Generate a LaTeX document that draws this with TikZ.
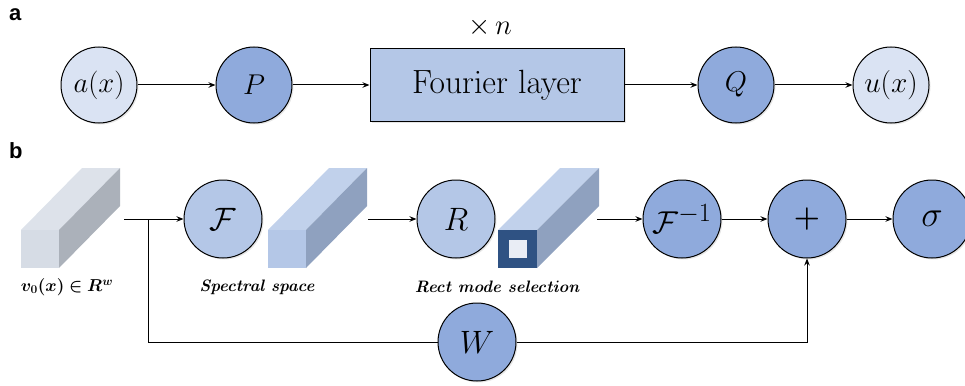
\documentclass[tikz,border=0pt]{standalone}
\usepackage{amsmath,bm,graphicx}
\usepackage{fontspec}
\newfontfamily\labfont{Liberation Sans}
\usetikzlibrary{arrows.meta,shadows}
\definecolor{lightb}{HTML}{DAE3F3}
\definecolor{midb}{HTML}{B4C7E7}
\definecolor{darkb}{HTML}{8FAADC}
\definecolor{navy}{HTML}{2F5283}
\definecolor{grayfront}{HTML}{D6DCE5}
\definecolor{graytop}{HTML}{DDE2EA}
\definecolor{grayside}{HTML}{ABB1BA}
\definecolor{bluetop}{HTML}{C1D1EB}
\definecolor{blueside}{HTML}{8FA1BF}
\definecolor{innersq}{HTML}{E9EDF5}
\newcommand{\myscm}[2]{\scalebox{#1}{$#2$}}
\newcommand{\cmtext}{\usefont{OT1}{cmr}{m}{n}}
\newcommand{\cmbi}{\usefont{OT1}{cmr}{bx}{it}}
\begin{document}
\begin{tikzpicture}[x=1pt,y=-1pt,
  shad/.style={drop shadow={opacity=0.2,shadow xshift=1.5pt,shadow yshift=-1.5pt}},
  circa/.style={circle,draw=black,line width=1pt,minimum size=76pt,inner sep=0pt,shad,font=\fontsize{24.88}{28}\selectfont},
  circb/.style={circle,draw=black,line width=1pt,minimum size=78pt,inner sep=0pt,shad,font=\fontsize{24.88}{28}\selectfont},
  arr/.style={-{Stealth[length=7pt,width=5.5pt]},line width=1pt},
  ln/.style={line width=1pt},
  lab/.style={font=\labfont\bfseries\fontsize{22}{24}\selectfont,anchor=north west,inner sep=0pt},
  captxt/.style={font=\fontsize{14.4}{17}\cmbi,inner sep=0pt}
]
\useasboundingbox (0,0) rectangle (965,385);

% ---------- part a ----------
\node[lab] (la) at (9,8) {a};
\node[circa,fill=lightb] (ax) at (99,85) {\myscm{1.15}{a(x)}};
\node[circa,fill=darkb] (P) at (254,85) {\myscm{1.15}{P}};
\node[draw=black,line width=1pt,fill=midb,minimum width=254pt,minimum height=72pt,inner sep=0pt,shad,
  font=\fontsize{24.88}{28}\cmtext] (FL) at (497,85) {\scalebox{1.35}{Fourier layer}};
\node[font=\fontsize{24.88}{28}\selectfont,inner sep=0pt,anchor=base] (xn) at (490,35) {\myscm{1.15}{\times\, n}};
\node[circa,fill=darkb] (Q) at (736,85) {\myscm{1.15}{Q}};
\node[circa,fill=lightb] (ux) at (891,85) {\myscm{1.18}{u(x)}};
\draw[arr] (ax) -- (P);
\draw[arr] (P) -- (FL);
\draw[arr] (FL) -- (Q);
\draw[arr] (Q) -- (ux);

% ---------- part b ----------
\node[lab] (lb) at (9,142) {b};

% prism 1
\fill[graytop] (21,230) -- (59,230) -- (120,168) -- (82,168) -- cycle;
\fill[grayside] (59,230) -- (59,268) -- (120,206) -- (120,168) -- cycle;
\node[fill=grayfront,minimum size=38pt,inner sep=0pt,anchor=north west] (v0) at (21,230) {};
\coordinate (v0out) at (124,219);
\coordinate (br) at (148,219);
\node[inner sep=0pt,font=\fontsize{18.5}{20}\selectfont] (v0lab) at (67,287) {$\bm{v_0(x)\in R^w}$};

% F circle
\node[circb,fill=midb] (F) at (223,219) {\myscm{1.3}{\mathcal{F}}};

% prism 2
\fill[bluetop] (268,230) -- (306,230) -- (367,168) -- (329,168) -- cycle;
\fill[blueside] (306,230) -- (306,268) -- (367,206) -- (367,168) -- cycle;
\node[fill=midb,minimum size=38pt,inner sep=0pt,anchor=north west] (sp) at (268,230) {};
\coordinate (spout) at (368,219);
\node[captxt] (splab) at (257,287) {\scalebox{1.15}{Spectral space}};

% R circle
\node[circb,fill=midb] (R) at (456,219) {\myscm{1.3}{R}};

% prism 3
\fill[bluetop] (498,230) -- (537,230) -- (599,168) -- (560,168) -- cycle;
\fill[blueside] (537,230) -- (537,268) -- (599,206) -- (599,168) -- cycle;
\node[fill=navy,minimum width=39pt,minimum height=38pt,inner sep=0pt,anchor=north west] (rm) at (498,230) {};
\node[fill=innersq,minimum size=18pt,inner sep=0pt] (rmin) at (rm.center) {};
\coordinate (rmout) at (597,219);
\node[captxt] (rmlab) at (497,287) {\scalebox{1.15}{Rect mode selection}};

% remaining circles
\node[circb,fill=darkb] (Fi) at (682,219) {\myscm{1.27}{\mathcal{F}^{-1}}};
\node[circb,fill=darkb] (plus) at (807,219) {\myscm{1.2}{\boldsymbol{+}}};
\node[circb,fill=darkb] (sig) at (932,219) {\myscm{1.45}{\sigma}};
\node[circb,fill=darkb] (W) at (477,342) {\myscm{1.3}{W}};

\draw[arr] (v0out) -- (F);
\draw[arr] (spout) -- (R);
\draw[arr] (rmout) -- (Fi);
\draw[arr] (Fi) -- (plus);
\draw[arr] (plus) -- (sig);
\draw[ln] (br) |- (W);
\draw[arr] (W) -| (plus);
\end{tikzpicture}
\end{document}
